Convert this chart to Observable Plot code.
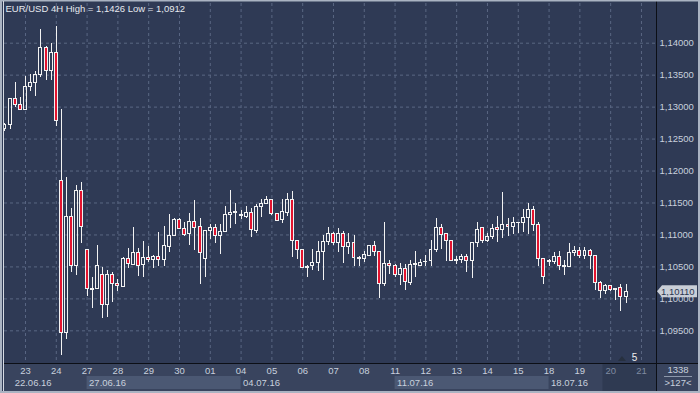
<!DOCTYPE html>
<html><head><meta charset="utf-8">
<script src="https://cdn.jsdelivr.net/npm/d3@7"></script>
<script src="https://cdn.jsdelivr.net/npm/@observablehq/plot@0.6"></script>
<style>
body{margin:0;background:#2f3a55;}
#chart svg{display:block;background:linear-gradient(180deg,#404d6b 0%,#37435f 45%,#2c3651 100%);}
</style>
</head><body><div id="chart"></div>
<script>
// EUR/USD 4H bars (22.06.16 08:00 .. 20.07.16 12:00)
const open = [1.1265,1.1272,1.1313,1.1304,1.1296,1.1332,1.1337,1.1351,1.1393,1.1356,
1.1385,1.1184,1.0947,1.1128,1.1052,1.1168,1.1076,1.1015,1.1015,1.1038,
1.0991,1.1038,1.1024,1.1019,1.1062,1.1053,1.1072,1.1053,1.1064,1.1061,
1.1066,1.1061,1.1081,1.1098,1.1123,1.1109,1.1102,1.1120,1.1112,1.1063,
1.1106,1.1111,1.1098,1.1105,1.1131,1.1134,1.1131,1.1128,1.1134,1.1106,
1.1144,1.1148,1.1155,1.1133,1.1123,1.1134,1.1155,1.1091,1.1077,1.1049,
1.1051,1.1056,1.1073,1.1089,1.1101,1.1087,1.1102,1.1081,1.1087,1.1064,
1.1063,1.1067,1.1083,1.1074,1.1023,1.1055,1.1051,1.1038,1.1046,1.1025,
1.1053,1.1052,1.1057,1.1060,1.1077,1.1111,1.1102,1.1091,1.1059,1.1061,
1.1066,1.1059,1.1087,1.1111,1.1091,1.1097,1.1111,1.1108,1.1116,1.1112,
1.1118,1.1118,1.1127,1.1139,1.1116,1.1062,1.1058,1.1058,1.1066,1.1051,
1.1050,1.1072,1.1075,1.1067,1.1075,1.1067,1.1025,1.1012,1.1020,1.1015,
1.1017,1.1003];
const high = [1.1275,1.1314,1.1339,1.1315,1.1348,1.1351,1.1356,1.1421,1.1395,1.1399,
1.1426,1.1297,1.1190,1.1141,1.1178,1.1182,1.1077,1.1033,1.1084,1.1049,
1.1045,1.1041,1.1031,1.1064,1.1079,1.1112,1.1079,1.1090,1.1082,1.1068,
1.1104,1.1113,1.1132,1.1125,1.1126,1.1119,1.1134,1.1154,1.1125,1.1107,
1.1117,1.1116,1.1116,1.1144,1.1169,1.1149,1.1138,1.1144,1.1142,1.1148,
1.1155,1.1160,1.1156,1.1134,1.1155,1.1165,1.1168,1.1091,1.1077,1.1052,
1.1078,1.1089,1.1099,1.1112,1.1104,1.1110,1.1106,1.1103,1.1099,1.1066,
1.1074,1.1084,1.1090,1.1074,1.1119,1.1060,1.1053,1.1055,1.1053,1.1060,
1.1074,1.1062,1.1068,1.1091,1.1126,1.1117,1.1103,1.1092,1.1066,1.1069,
1.1070,1.1088,1.1119,1.1111,1.1103,1.1116,1.1129,1.1166,1.1125,1.1127,
1.1120,1.1140,1.1149,1.1144,1.1120,1.1063,1.1062,1.1073,1.1074,1.1060,
1.1086,1.1082,1.1081,1.1081,1.1077,1.1067,1.1027,1.1022,1.1020,1.1015,
1.1022,1.1022];
const low = [1.1262,1.1265,1.1299,1.1294,1.1296,1.1325,1.1316,1.1346,1.1341,1.1342,
1.1269,1.0912,1.0937,1.1041,1.1036,1.1087,1.1004,1.0985,1.1014,1.0969,
1.0971,1.0994,1.1011,1.1018,1.1047,1.1053,1.1035,1.1033,1.1057,1.1048,
1.1050,1.1050,1.1073,1.1098,1.1108,1.1098,1.1083,1.1076,1.1023,1.1034,
1.1093,1.1086,1.1070,1.1104,1.1110,1.1117,1.1124,1.1126,1.1096,1.1103,
1.1128,1.1147,1.1131,1.1121,1.1118,1.1129,1.1065,1.1062,1.1047,1.1034,
1.1044,1.1043,1.1028,1.1083,1.1083,1.1073,1.1056,1.1069,1.1051,1.1051,
1.1057,1.1067,1.1066,1.1001,1.1020,1.1038,1.1033,1.1021,1.1013,1.1021,
1.1034,1.1051,1.1051,1.1051,1.1073,1.1078,1.1058,1.1058,1.1054,1.1055,
1.1042,1.1032,1.1081,1.1086,1.1088,1.1093,1.1088,1.1094,1.1098,1.1100,
1.1103,1.1104,1.1100,1.1106,1.1050,1.1023,1.1050,1.1054,1.1045,1.1037,
1.1049,1.1066,1.1063,1.1062,1.1046,1.1013,1.1000,1.1007,1.1011,1.0997,
1.0981,1.0993];
const close = [1.1272,1.1312,1.1304,1.1296,1.1332,1.1337,1.1351,1.1393,1.1356,1.1385,
1.1278,1.0946,1.1128,1.1052,1.1168,1.1113,1.1015,1.1014,1.1052,1.0991,
1.1037,1.1024,1.1020,1.1062,1.1054,1.1072,1.1052,1.1064,1.1061,1.1066,
1.1061,1.1082,1.1098,1.1124,1.1109,1.1100,1.1120,1.1111,1.1072,1.1106,
1.1111,1.1098,1.1105,1.1132,1.1134,1.1136,1.1130,1.1134,1.1108,1.1144,
1.1148,1.1155,1.1133,1.1122,1.1136,1.1155,1.1091,1.1077,1.1048,1.1050,
1.1056,1.1074,1.1089,1.1101,1.1087,1.1102,1.1081,1.1087,1.1064,1.1063,
1.1068,1.1083,1.1073,1.1023,1.1055,1.1051,1.1038,1.1046,1.1026,1.1053,
1.1054,1.1056,1.1058,1.1077,1.1111,1.1100,1.1091,1.1059,1.1061,1.1066,
1.1059,1.1087,1.1108,1.1091,1.1097,1.1109,1.1108,1.1116,1.1112,1.1119,
1.1119,1.1127,1.1139,1.1116,1.1062,1.1034,1.1059,1.1066,1.1052,1.1050,
1.1072,1.1075,1.1067,1.1075,1.1067,1.1025,1.1012,1.1020,1.1014,1.1014,
1.1003,1.1011];

const dayLabels = ["23","24","27","28","29","30","01","04","05","06","07","08","11","12","13","14","15","18","19","20","21"];
const dayBars = dayLabels.map((_, i) => 4 + 6 * i);   // bar index at which each day starts
const weekLabels = ["22.06.16","27.06.16","04.07.16","11.07.16","18.07.16"];
const weekBars = [1.5, 16, 46, 76, 106];
const priceTicks = [1.095,1.100,1.105,1.110,1.115,1.120,1.125,1.130,1.135,1.140];
const titleText = "EUR/USD 4H High = 1,1426 Low = 1,0912";
const shiftLabel = "5";
const footTop = "1338", footBottom = ">127<";

const bars = open.map((o, i) => ({i, open: o, high: high[i], low: low[i], close: close[i]}));
const fmt = d => d3.format(".5f")(d).replace(".", ",");
const RED = "#e3132f", WHITE = "#f2f2f2", GRID = "#5a6783", TXT = "#c8d0dd";
const W = 700, H = 393, mL = 4, mR = 44, mT = 3, mB = 30;
const weeks = weekLabels.map((label, i) => ({label, bar: weekBars[i]}));

const plot = Plot.plot({
  width: W, height: H, marginLeft: mL, marginRight: mR, marginTop: mT, marginBottom: mB,
  x: {type: "linear", domain: [-0.09, 126.93], axis: null},
  y: {domain: [1.08989, 1.14621], axis: null},
  style: {background: "transparent", fontFamily: "'Liberation Sans', Arial, sans-serif", fontSize: "9.5px", color: TXT},
  marks: [
    Plot.ruleY(priceTicks, {stroke: GRID, strokeDasharray: "3,3"}),
    Plot.ruleX(dayBars, {stroke: GRID, strokeDasharray: "3,3"}),
    Plot.ruleX(bars, {x: "i", y1: "high", y2: d => Math.max(d.open, d.close), stroke: WHITE, clip: true, shapeRendering: "crispEdges"}),
    Plot.ruleX(bars, {x: "i", y1: d => Math.min(d.open, d.close), y2: "low", stroke: WHITE, clip: true, shapeRendering: "crispEdges"}),
    Plot.rect(bars, {x1: d => d.i - 0.29, x2: d => d.i + 0.29, y1: "open", y2: "close",
      fill: d => d.close < d.open ? RED : "none", stroke: WHITE, strokeWidth: 1, clip: true, shapeRendering: "crispEdges"}),
    Plot.axisY({anchor: "right", ticks: priceTicks, tickFormat: fmt, tickSize: 0, tickPadding: 3, fill: TXT}),
    Plot.text(dayLabels, {x: (d, i) => dayBars[i], text: d => d, frameAnchor: "bottom", dy: 7.5, lineAnchor: "middle",
      fill: (d, i) => i >= 19 ? "#7f8ba1" : TXT}),
    Plot.text(weeks, {x: "bar", text: "label", frameAnchor: "bottom", dy: 19.5, dx: 2, lineAnchor: "middle",
      textAnchor: "start", fill: TXT}),
    Plot.text([titleText], {frameAnchor: "top-left", text: d => d, dx: 1, dy: 2, lineAnchor: "top", fill: "#e6e9ef", fontSize: 9.5, letterSpacing: "-0.3px"})
  ]
});

const svg = d3.select(plot);
const xs = plot.scale("x"), ys = plot.scale("y");
const px = k => xs.apply(k);
const bottom = H - mB, right = W - mR;
// bottom time-axis panel
const panel = svg.insert("g", ":first-child");
panel.append("rect").attr("x", mL).attr("y", bottom).attr("width", right - mL).attr("height", H - bottom).attr("fill", "#39445e");
[[16, 46], [76, 106]].forEach(([a, b]) => panel.append("rect").attr("x", px(a)).attr("y", bottom + 13).attr("width", px(b) - px(a)).attr("height", 13).attr("fill", "#4b5873"));
panel.append("rect").attr("x", px(116.5)).attr("y", bottom + 1).attr("width", right - px(116.5)).attr("height", H - bottom - 3).attr("fill", "#2f3a52");
panel.append("rect").attr("x", right).attr("y", bottom).attr("width", W - right).attr("height", H - bottom).attr("fill", "#39445e");
// separators
svg.append("line").attr("x1", right + 0.5).attr("x2", right + 0.5).attr("y1", 0).attr("y2", H).attr("stroke", "#0c0f16");
svg.append("line").attr("x1", mL).attr("x2", W).attr("y1", bottom + 0.5).attr("y2", bottom + 0.5).attr("stroke", "#0c0f16");
// footer box
svg.append("text").attr("x", (right + W) / 2).attr("y", bottom + 10).attr("text-anchor", "middle").attr("fill", TXT).attr("font-size", 9.5).text(footTop);
svg.append("line").attr("x1", right + 8).attr("x2", W - 8).attr("y1", bottom + 13.5).attr("y2", bottom + 13.5).attr("stroke", "#8d98ab");
svg.append("text").attr("x", (right + W) / 2).attr("y", bottom + 23).attr("text-anchor", "middle").attr("fill", TXT).attr("font-size", 9.5).text(footBottom);
// chart-shift marker
svg.append("path").attr("d", `M${px(120.3)-4},${bottom-2} l4,-5 l4,5 z`).attr("fill", "#27303f");
svg.append("text").attr("x", px(122.2)).attr("y", bottom - 2).attr("text-anchor", "start").attr("fill", "#f0f0f0").attr("font-size", 10).text(shiftLabel);
// current price tag
const cy = ys.apply(close[close.length - 1]);
svg.append("path").attr("d", `M${right + 1},${cy} l5,-6 h35 v12 h-35 z`).attr("fill", "#c9ced7");
svg.append("text").attr("x", right + 5).attr("y", cy).attr("dy", "0.35em").attr("text-anchor", "start").attr("fill", "#2a3650").attr("font-size", 9.5).text(fmt(close[close.length - 1]));
// window frame
svg.append("rect").attr("x", 1).attr("y", 0.5).attr("width", W - 2).attr("height", H - 1.5).attr("fill", "none").attr("stroke", "#aab3c2").attr("stroke-width", 2);
svg.append("line").attr("x1", 3.5).attr("x2", 3.5).attr("y1", 1).attr("y2", H - 2).attr("stroke", "#d5dae2");

document.getElementById("chart").appendChild(plot);
</script>
</body></html>
